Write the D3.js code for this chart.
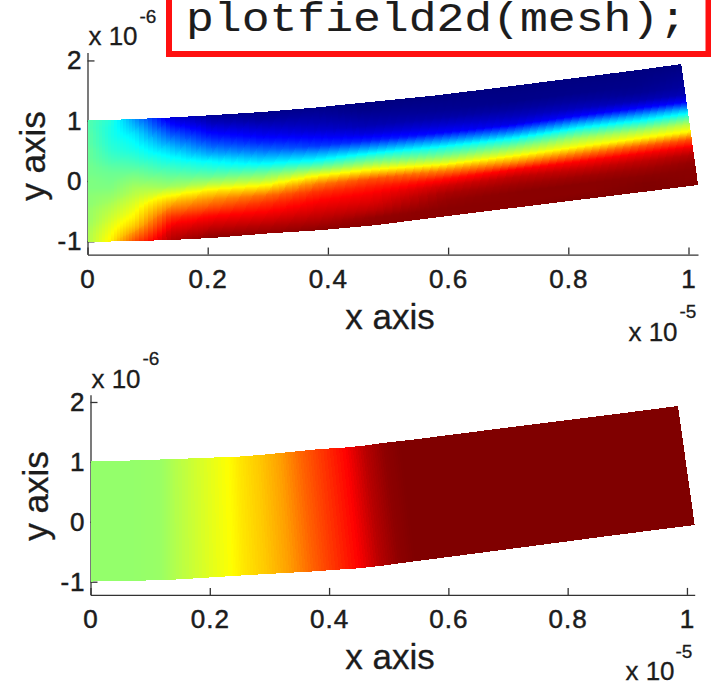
<!DOCTYPE html>
<html>
<head>
<meta charset="utf-8">
<script src="https://cdn.jsdelivr.net/npm/d3@7"></script>
<style>
    html, body { margin: 0; background: #fff; }
    svg { display: block; }
    text { font-family: "Liberation Sans", sans-serif; fill: #1c1c1c; stroke: #1c1c1c; stroke-width: 0.3px; }
</style>
</head>
<body>
<svg width="711" height="681"></svg>
<script>
const svg = d3.select('svg')

const xTicks = [0, 0.2, 0.4, 0.6, 0.8, 1]
const yTicks = [-1, 0, 1, 2]

// upper field: mesh edges in axis units (x 1e-5, y 1e-6)
const upperTopX = [0, .039, .079, .137, .205, .289, .374, .457, .575, .693, .810, .910, .988]
const upperTopY = [1.012, 1.015, 1.028, 1.053, 1.091, 1.144, 1.214, 1.297, 1.415, 1.559, 1.708, 1.833, 1.940]
const upperBotX = [0, .039, .079, .139, .210, .300, .390, .480, .600, .718, .836, .938, 1.016]
const upperBotY = [-1.007, -1.003, -.995, -.978, -.942, -.869, -.813, -.731, -.580, -.434, -.289, -.164, -.066]

// one column per station, top edge to bottom edge, 0..1 on the colormap
const upperValues = [
    [.46, .46, .47, .47, .48, .48, .49, .49, .50, .50, .51, .51, .52, .52, .53, .54, .54],
    [.41, .40, .40, .41, .42, .44, .46, .48, .49, .50, .52, .54, .56, .58, .60, .62, .64],
    [.27, .31, .35, .375, .395, .42, .45, .48, .51, .54, .56, .59, .615, .64, .68, .74, .80],
    [.09, .14, .20, .26, .32, .37, .41, .45, .49, .53, .61, .69, .76, .83, .88, .92, .95],
    [.02, .06, .11, .16, .22, .29, .37, .42, .48, .56, .66, .74, .80, .865, .91, .95, .99],
    [.01, .03, .07, .11, .16, .23, .31, .39, .48, .56, .66, .77, .83, .87, .91, .95, .98],
    [.01, .03, .05, .08, .13, .18, .29, .39, .51, .64, .76, .83, .87, .90, .93, .96, .99],
    [0, .01, .03, .05, .09, .16, .29, .42, .53, .66, .80, .85, .885, .91, .94, .98, .99],
    [0, .01, .02, .04, .08, .13, .27, .40, .49, .60, .75, .855, .92, .96, .98, .99, .99],
    [0, .005, .01, .03, .06, .10, .24, .39, .50, .60, .73, .875, .94, .97, .99, .99, .99],
    [0, .005, .01, .03, .06, .125, .29, .43, .54, .62, .76, .875, .93, .97, .99, .99, 1],
    [0, .005, .01, .02, .05, .13, .29, .42, .54, .635, .79, .885, .94, .97, .99, 1, 1],
    [0, .01, .02, .03, .05, .12, .30, .44, .56, .64, .80, .89, .95, .98, .99, .99, 1]
]

// lower field: varies along x only
const lowerTopX = [0, .066, .117, .142, .184, .231, .251, .284, .318, .351, .385, .427, .460, .490, .519, .536, .687, .855, .985]
const lowerTopY = [1.007, 1.023, 1.040, 1.048, 1.065, 1.082, 1.090, 1.115, 1.149, 1.182, 1.215, 1.240, 1.274, 1.316, 1.349, 1.366, 1.558, 1.766, 1.933]
const lowerBotX = [0, .066, .117, .143, .187, .237, .259, .296, .333, .370, .405, .450, .485, .516, .544, .561, .712, .881, 1.013]
const lowerBotY = [-.997, -.988, -.972, -.963, -.938, -.905, -.893, -.871, -.851, -.830, -.805, -.776, -.738, -.696, -.659, -.638, -.442, -.220, -.053]
const lowerValues = [.52, .52, .525, .55, .585, .625, .65, .68, .72, .775, .82, .875, .945, .985, 1, 1, 1, 1, 1]

const jet = d3.scaleLinear()
    .domain([0, .125, .375, .625, .875, 1])
    .range(['#000080', '#0000ff', '#00ffff', '#ffff00', '#ff0000', '#800000'])
    .clamp(true)

const lerp = (a, b, t) => a + (b - a) * t

// draws the mesh with interpolated shading, like matlab's "shading interp"
const drawField = (selection, props) => {
    const { x, y, topX, topY, botX, botY, values, substeps } = props
    const rows = values[0].length - 1
    const cells = []

    const node = (s, r) => {
        const t = r / rows
        return [lerp(topX[s], botX[s], t), lerp(topY[s], botY[s], t)]
    }

    d3.range(topX.length - 1).forEach(s => {
        d3.range(rows).forEach(r => {
            const c = [node(s, r), node(s + 1, r), node(s + 1, r + 1), node(s, r + 1)]
            const v = [values[s][r], values[s + 1][r], values[s + 1][r + 1], values[s][r + 1]]
            const blend = (q, u, w) => lerp(lerp(q[0], q[1], u), lerp(q[3], q[2], u), w)
            const at = (u, w) => [
                x(blend(c.map(p => p[0]), u, w)),
                y(blend(c.map(p => p[1]), u, w))
            ]
            d3.range(substeps[0]).forEach(i => {
                d3.range(substeps[1]).forEach(j => {
                    const u0 = i / substeps[0], u1 = (i + 1) / substeps[0]
                    const w0 = j / substeps[1], w1 = (j + 1) / substeps[1]
                    cells.push({
                        points: [at(u0, w0), at(u1, w0), at(u1, w1), at(u0, w1)],
                        value: blend(v, (u0 + u1) / 2, (w0 + w1) / 2)
                    })
                })
            })
        })
    })

    const line = d3.line()

    selection.selectAll('path')
        .data(cells)
        .enter().append('path')
            .attr('d', d => line(d.points) + 'Z')
            .attr('fill', d => jet(d.value))
            .attr('shape-rendering', 'crispEdges')
}

const drawAxes = (selection, props) => {
    const { x, y, fontSize } = props

    const xAxis = d3.axisBottom(x)
        .tickValues(xTicks)
        .tickFormat(d3.format('~g'))
        .tickSizeInner(-7)
        .tickSizeOuter(0)
        .tickPadding(15)

    const yAxis = d3.axisLeft(y)
        .tickValues(yTicks)
        .tickFormat(d => d3.format('d')(d).replace('\u2212', '-'))
        .tickSizeInner(-7)
        .tickSizeOuter(0)
        .tickPadding(5)

    selection.append('g')
        .attr('transform', `translate(0, ${y.range()[0]})`)
        .call(xAxis)

    selection.append('g')
        .attr('transform', `translate(${x.range()[0]}, 0)`)
        .call(yAxis)

    selection.selectAll('.domain, .tick line')
        .attr('stroke', '#333')
        .attr('stroke-width', 1.3)

    selection.selectAll('.tick text')
        .attr('fill', '#1c1c1c')
        .style('font-family', '"Liberation Sans", sans-serif')
        .style('font-size', `${fontSize}px`)
        .style('stroke-width', '0.5px')
        .style('letter-spacing', '1px')
}

const addLabel = (selection, label, tx, ty, size, rotate) => {
    selection.append('text')
        .attr('transform', `translate(${tx}, ${ty})` + (rotate ? ` rotate(${rotate})` : ''))
        .attr('text-anchor', 'middle')
        .style('font-size', `${size}px`)
        .text(label)
}

const panel = (props) => {
    const { xRange, yRange, xMax, yMin, yMax, topX, topY, botX, botY, values, labels, substeps } = props

    const x = d3.scaleLinear().domain([0, xMax]).range(xRange)
    const y = d3.scaleLinear().domain([yMin, yMax]).range(yRange)

    const g = svg.append('g')
    g.append('g').call(drawAxes, { x, y, fontSize: 26 })
    g.append('g').call(drawField, { x, y, topX, topY, botX, botY, values, substeps })

    labels.forEach(d => addLabel(g, d.text, d.x, d.y, d.size, d.rotate))
}

panel({
    xRange: [87.5, 698],
    yRange: [254.6, 52.6],
    xMax: 1.0158,
    yMin: -1.22,
    yMax: 2.13,
    topX: upperTopX,
    topY: upperTopY,
    botX: upperBotX,
    botY: upperBotY,
    values: upperValues,
    substeps: [8, 8],
    labels: [
        { text: 'x axis', x: 390, y: 329, size: 35 },
        { text: 'y axis', x: 45, y: 156, size: 35, rotate: -90 },
        { text: 'x 10', x: 113, y: 45, size: 26 },
        { text: '-6', x: 148, y: 23, size: 19 },
        { text: 'x 10', x: 653, y: 341, size: 26 },
        { text: '-5', x: 688, y: 318, size: 19 }
    ]
})

panel({
    xRange: [90.5, 694.7],
    yRange: [594.9, 394.8],
    xMax: 1.013,
    yMin: -1.22,
    yMax: 2.12,
    topX: lowerTopX,
    topY: lowerTopY,
    botX: lowerBotX,
    botY: lowerBotY,
    values: lowerValues.map(v => [v, v]),
    substeps: [8, 30],
    labels: [
        { text: 'x axis', x: 390, y: 669, size: 35 },
        { text: 'y axis', x: 48, y: 496, size: 35, rotate: -90 },
        { text: 'x 10', x: 116, y: 388, size: 26 },
        { text: '-6', x: 151, y: 365, size: 19 },
        { text: 'x 10', x: 650, y: 680, size: 26 },
        { text: '-5', x: 684, y: 658, size: 19 }
    ]
})

// code box clipped by the top of the picture
svg.append('rect')
    .attr('x', 169)
    .attr('y', -10)
    .attr('width', 539.5)
    .attr('height', 64)
    .attr('fill', '#fff')
    .attr('stroke', '#ff1010')
    .attr('stroke-width', 6)

svg.append('text')
    .attr('transform', 'translate(186, 31) scale(1.16, 1)')
    .style('font-family', '"Liberation Mono", monospace')
    .style('font-size', '40px')
    .style('stroke-width', '0.1px')
    .text('plotfield2d(mesh);')
</script>
</body>
</html>
